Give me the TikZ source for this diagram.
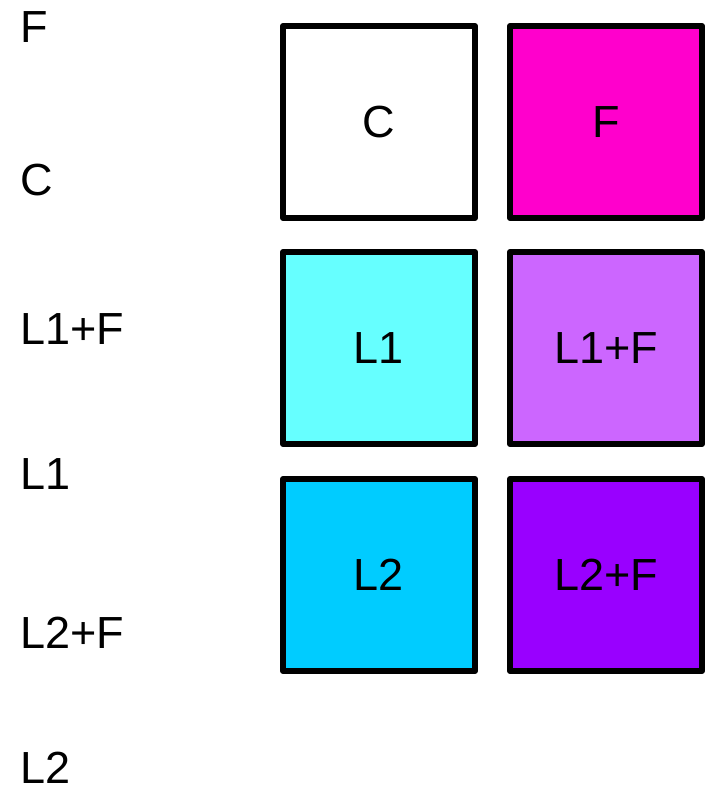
\documentclass[tikz,border=0pt]{standalone}
\usepackage{fontspec}
\setmainfont{Liberation Sans}
\definecolor{fmag}{HTML}{FF00CC}
\definecolor{lone}{HTML}{66FFFF}
\definecolor{lonef}{HTML}{CC66FF}
\definecolor{ltwo}{HTML}{00CCFF}
\definecolor{ltwof}{HTML}{9900FF}
\begin{document}
\begin{tikzpicture}[x=1pt,y=-1pt,font=\fontsize{45}{54}\selectfont,
  cell/.style={draw, line width=6pt, line join=round, minimum size=192pt, inner sep=0pt},
  key/.style={anchor=base west, inner sep=0pt}]
\useasboundingbox (0,0) rectangle (705,789);

\node[key] (kF) at (20,43) {F};
\node[key] (kC) at (20,195) {C};
\node[key] (kL1F) at (20,344) {L1+F};
\node[key] (kL1) at (20,489) {L1};
\node[key] (kL2F) at (20,648) {L2+F};
\node[key] (kL2) at (20,783) {L2};

\node[cell, fill=white] (C) at (379,122) {C};
\node[cell, fill=fmag] (F) at (606,122) {F};
\node[cell, fill=lone] (L1) at (379,348) {L1};
\node[cell, fill=lonef] (L1F) at (606,348) {L1+F};
\node[cell, fill=ltwo] (L2) at (379,575) {L2};
\node[cell, fill=ltwof] (L2F) at (606,575) {L2+F};
\end{tikzpicture}
\end{document}
